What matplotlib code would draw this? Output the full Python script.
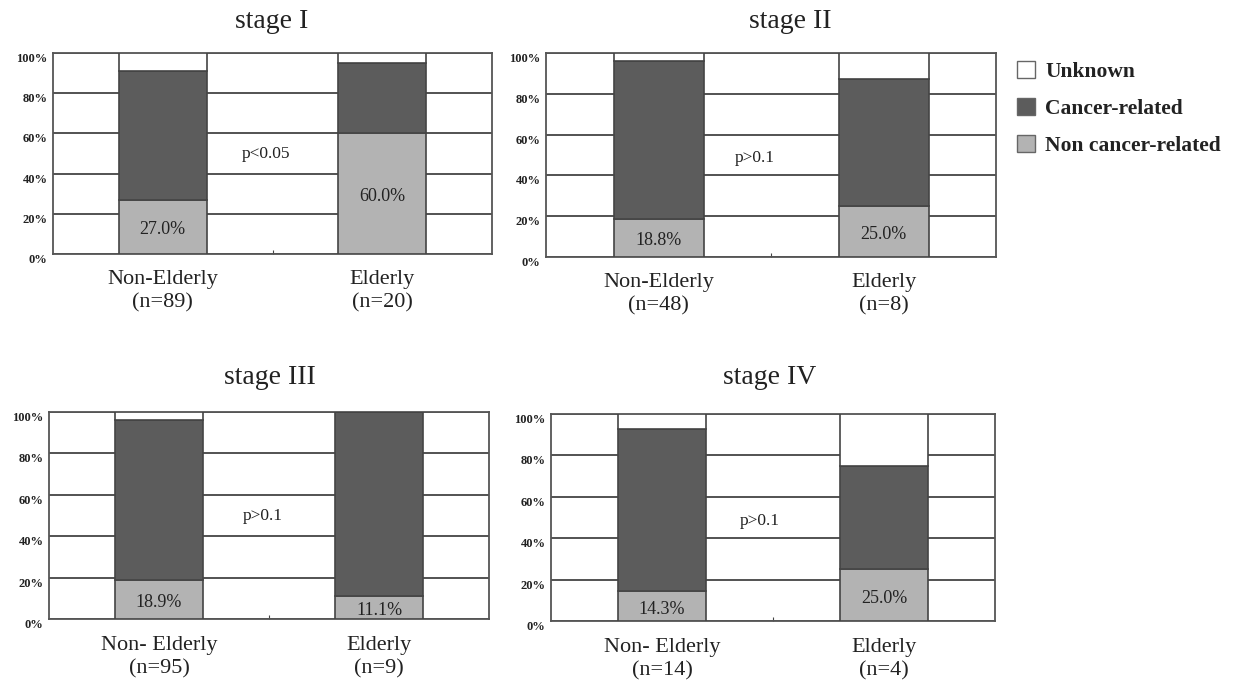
import numpy as np
import matplotlib
matplotlib.use("Agg")
import matplotlib.pyplot as plt
from matplotlib.patches import Patch

plt.rcParams['font.family'] = ['Liberation Serif', 'DejaVu Serif']

# data
stages = ["stage I", "stage II", "stage III", "stage IV"]
groups = [["Non-Elderly\n(n=89)", "Elderly\n(n=20)"],
          ["Non-Elderly\n(n=48)", "Elderly\n(n=8)"],
          ["Non- Elderly\n(n=95)", "Elderly\n(n=9)"],
          ["Non- Elderly\n(n=14)", "Elderly\n(n=4)"]]
non_cancer = [[27.0, 60.0], [18.8, 25.0], [18.9, 11.1], [14.3, 25.0]]
cancer = [[64.0, 35.0], [77.2, 62.5], [77.1, 88.9], [78.6, 50.0]]
pvals = ["p<0.05", "p>0.1", "p>0.1", "p>0.1"]

light = "#b3b3b3"
dark = "#5c5c5c"
edge = "#444444"
txt = "#222222"

fig = plt.figure(figsize=(12.34, 6.8), dpi=100)

# axes boxes in pixels: left, top, right, bottom
boxes = [(53, 53, 492, 254), (546, 53, 996, 257),
         (49, 412, 489, 619), (551, 414, 995, 621)]
title_pos = [(272, 21), (790, 21), (270, 378), (770, 378)]
p_pos = [(0.47, 50), (0.43, 48.5), (0.47, 50), (0.44, 48.5)]

W, H = 1234, 680
for i in range(4):
    l, t, r, b = boxes[i]
    ax = fig.add_axes([l / W, 1 - b / H, (r - l) / W, (b - t) / H])
    x = np.arange(2)
    nc = np.array(non_cancer[i])
    ca = np.array(cancer[i])
    unk = 100 - nc - ca
    kw = dict(width=0.4, edgecolor=edge, linewidth=1.2, zorder=3)
    ax.bar(x, nc, color=light, **kw)
    ax.bar(x, ca, bottom=nc, color=dark, **kw)
    ax.bar(x, unk, bottom=nc + ca, color="white", **kw)

    ax.set_xlim(-0.5, 1.5)
    ax.set_ylim(0, 100)
    ax.set_yticks([0, 20, 40, 60, 80, 100])
    ax.set_yticklabels(["0%", "20%", "40%", "60%", "80%", "100%"],
                       fontsize=9, fontweight="bold", color=txt)
    for lab in ax.get_yticklabels():
        lab.set_va("top")
    ax.tick_params(axis="y", length=0, pad=4)
    ax.grid(axis="y", color=edge, linewidth=1.3, zorder=0)
    ax.set_xticks([0.5])
    ax.set_xticklabels([""])
    ax.tick_params(axis="x", direction="in", length=3, color=edge)
    for s in ax.spines.values():
        s.set_color("#555555")
        s.set_linewidth(1.3)

    for j in range(2):
        ax.text(x[j], nc[j] / 2 - 1.5, "%.1f%%" % nc[j], ha="center", va="center",
                fontsize=13, color=txt, zorder=4)
        ax.text(x[j], -8, groups[i][j], ha="center", va="top", fontsize=16,
                color=txt, linespacing=1.3)

    px, py = p_pos[i]
    ax.text(px, py, pvals[i], ha="center", va="center", fontsize=12.5, color=txt)

    tx, ty = title_pos[i]
    fig.text(tx / W, 1 - ty / H, stages[i], ha="center", va="center",
             fontsize=20, color=txt)

handles = [Patch(facecolor="white", edgecolor="#666666", label="Unknown"),
           Patch(facecolor=dark, edgecolor="#666666", label="Cancer-related"),
           Patch(facecolor=light, edgecolor="#666666", label="Non cancer-related")]
fig.legend(handles=handles, loc="upper left", bbox_to_anchor=(998 / W, 1 - 42 / H),
           frameon=False, prop={"weight": "bold", "size": 15.5},
           handlelength=0.8, handleheight=0.8, labelspacing=0.75, handletextpad=0.5,
           labelcolor=txt)

fig.savefig("out.png", dpi=100)
